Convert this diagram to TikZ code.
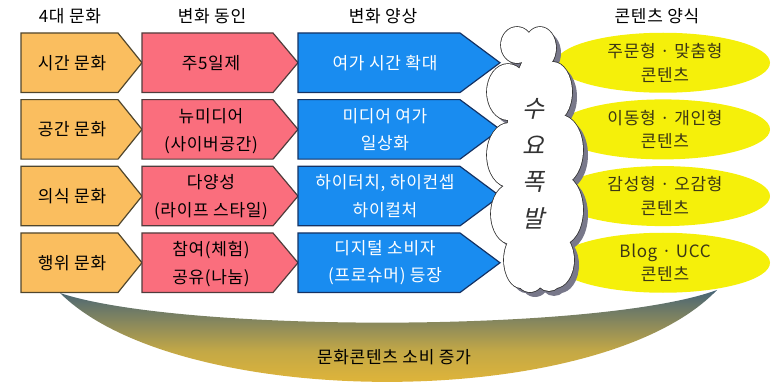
\documentclass[tikz,border=0pt]{standalone}
\usepackage{fontspec}
\setmainfont[LetterSpace=4]{Noto Sans CJK KR}
\newfontfamily\slantfont[FakeSlant=0.22]{Noto Sans CJK KR}
\usetikzlibrary{shapes.geometric}
\definecolor{ofill}{RGB}{250,190,95}
\definecolor{oline}{RGB}{80,70,45}
\definecolor{pfill}{RGB}{250,110,125}
\definecolor{pline}{RGB}{80,60,60}
\definecolor{bfill}{RGB}{25,140,240}
\definecolor{bline}{RGB}{20,50,100}
\definecolor{yfill}{RGB}{245,240,10}
\definecolor{ytext}{RGB}{60,55,20}
\definecolor{shadecolA}{RGB}{70,100,118}
\definecolor{shadecolB}{RGB}{195,168,70}
\definecolor{shadecolC}{RGB}{250,192,45}
\definecolor{cloudline}{RGB}{50,50,50}
\definecolor{cloudshadow}{RGB}{120,120,138}
\tikzset{
  arrowbox/.style={line width=1.2pt, line join=miter},
  obox/.style={arrowbox, fill=ofill, draw=oline},
  pbox/.style={arrowbox, fill=pfill, draw=pline},
  bbox/.style={arrowbox, fill=bfill, draw=bline},
  txt/.style={align=center, font=\fontsize{17}{27.5}\selectfont, inner sep=0pt},
  wtxt/.style={txt, text=white},
  etxt/.style={txt, text=ytext, font=\fontsize{17}{23.5}\selectfont},
  yell/.style={ellipse, fill=yfill, minimum width=214, minimum height=60, inner sep=0pt},
}
\newcommand{\puffs}[1]{%
  \path[#1] (517,45) ellipse [x radius=16pt, y radius=18pt];
  \path[#1] (540,48) ellipse [x radius=16pt, y radius=21pt];
  \path[#1] (508,92) ellipse [x radius=21pt, y radius=28pt];
  \path[#1] (509,155) ellipse [x radius=22pt, y radius=32pt];
  \path[#1] (511,214) ellipse [x radius=20pt, y radius=30pt];
  \path[#1] (521,260) ellipse [x radius=17pt, y radius=28pt];
  \path[#1] (553,92) ellipse [x radius=19pt, y radius=30pt];
  \path[#1] (560,150) ellipse [x radius=23pt, y radius=35pt];
  \path[#1] (561,210) ellipse [x radius=22pt, y radius=35pt];
  \path[#1] (555,260) ellipse [x radius=19pt, y radius=28pt];
  \path[#1] (530,277) ellipse [x radius=14pt, y radius=15pt];
  \path[#1] (549,278) ellipse [x radius=13pt, y radius=13pt];
  \path[#1] (536,160) ellipse [x radius=30pt, y radius=110pt];
}
\begin{document}
\begin{tikzpicture}[x=1pt,y=-1pt]
\useasboundingbox (0,0) rectangle (772,385);
% headers
\node[txt] (h1) at (70,16) {4대 문화};
\node[txt] (h2) at (212,16) {변화 동인};
\node[txt] (h3) at (383,16) {변화 양상};
\node[txt] (h4) at (657,16) {콘텐츠 양식};
% crescent
\shade[top color=shadecolA, bottom color=shadecolC, middle color=shadecolB]
  (60,293) .. controls (180,412) and (600,412) .. (717,290)
           .. controls (600,333) and (180,333) .. cycle;
\node[txt] (total) at (394,357) {문화콘텐츠 소비 증가};
% ellipses
\foreach \i/\c in {1/62.75,2/129.4,3/196.1,4/262.75}{
  \node[yell] (e\i) at (663,\c) {};
}
\node[etxt] (et1) at (665,62.75) {주문형 · 맞춤형\\콘텐츠};
\node[etxt] (et2) at (665,129.4) {이동형 · 개인형\\콘텐츠};
\node[etxt] (et3) at (665,196.1) {감성형 · 오감형\\콘텐츠};
\node[etxt] (et4) at (665,262.75) {Blog · UCC\\콘텐츠};
% boxes
\foreach \i/\c in {1/62.75,2/129.4,3/196.1,4/262.75}{
  \draw[obox] (21,{\c-29.75}) -- (118,{\c-29.75}) -- (142,\c) -- (118,{\c+29.75}) -- (21,{\c+29.75}) -- cycle;
  \draw[pbox] (142,{\c-29.75}) -- (273,{\c-29.75}) -- (298,\c) -- (273,{\c+29.75}) -- (142,{\c+29.75}) -- cycle;
  \draw[bbox] (298,{\c-29.75}) -- (460,{\c-29.75}) -- (500,\c) -- (460,{\c+29.75}) -- (298,{\c+29.75}) -- cycle;
}
% cloud: shadow, outline, fill
\begin{scope}[shift={(5,5)}]
  \puffs{fill=cloudshadow}
\end{scope}
\puffs{draw=cloudline, line width=1.6pt}
\puffs{fill=white}
\node[font=\fontsize{24}{36.5}\selectfont\slantfont, text=black!80, align=center, inner sep=0pt] (burst) at (534,164) {수\\요\\폭\\발};
% texts
\node[txt] (o1) at (72,62.75) {시간 문화};
\node[txt] (o2) at (72,129.4) {공간 문화};
\node[txt] (o3) at (72,196.1) {의식 문화};
\node[txt] (o4) at (72,262.75) {행위 문화};
\node[txt] (p1) at (211,62.75) {주5일제};
\node[txt] (p2) at (211,131) {뉴미디어\\(사이버공간)};
\node[txt] (p3) at (211,197) {다양성\\(라이프 스타일)};
\node[txt] (p4) at (211,264) {참여(체험)\\공유(나눔)};
\node[wtxt] (b1) at (385,62.75) {여가 시간 확대};
\node[wtxt] (b2) at (385,129.4) {미디어 여가\\일상화};
\node[wtxt] (b3) at (385,196.1) {하이터치, 하이컨셉\\하이컬처};
\node[wtxt] (b4) at (385,262.75) {디지털 소비자\\(프로슈머) 등장};
\end{tikzpicture}
\end{document}
